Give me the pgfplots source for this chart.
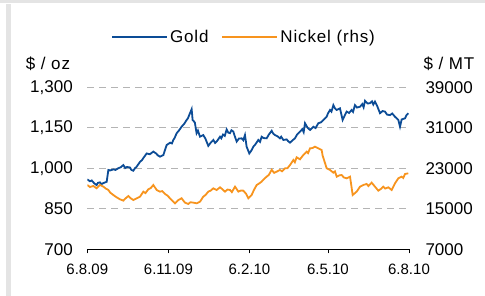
\documentclass[border=0pt]{standalone}
\usepackage{pgfplots}
\pgfplotsset{compat=1.18}
\usepackage{fontspec}
\setmainfont{Liberation Sans}
\newfontfamily\spacedfont[LetterSpace=5]{Liberation Sans}
\definecolor{goldblue}{RGB}{12,76,150}
\definecolor{nickelorange}{RGB}{247,148,30}
\definecolor{gridgray}{RGB}{180,180,180}
\definecolor{framegray}{RGB}{228,228,228}
\begin{document}
\begin{tikzpicture}
\useasboundingbox (0pt,0pt) rectangle (485pt,-296pt);
\fill[framegray] (0pt,0pt) rectangle (485pt,-3.3pt);
\fill[framegray] (6pt,-4pt) rectangle (10.5pt,-296pt);
\begin{axis}[
  at={(87.3pt,-249.3pt)}, anchor=south west,
  scale only axis, width=321.7pt, height=162pt,
  xmin=0, xmax=365, ymin=700, ymax=1300,
  separate axis lines,
  axis x line*=bottom, axis y line*=left,
  x axis line style={draw=black, line width=0.8pt, -},
  y axis line style={draw=none},
  xtick={0,92,184,273,365},
  xticklabels={6.8.09,6.11.09,6.2.10,6.5.10,6.8.10},
  xtick align=outside, major tick length=4pt,
  x tick style={draw=black, line width=0.8pt},
  xticklabel style={font=\fontsize{15}{17}\selectfont, yshift=-7pt},
  ytick={700,850,1000,1150,1300},
  yticklabels={700,850,{1,000},{1,150},{1,300}},
  y tick style={draw=none},
  yticklabel style={font=\fontsize{17}{19}\selectfont, anchor=east, xshift=-11pt},
  ymajorgrids,
  grid style={gridgray, line width=0.9pt, dash pattern=on 7pt off 5pt},
  legend style={at={(rel axis cs:0.487,1.31)}, anchor=center, draw=none, fill=none,
    font=\fontsize{17}{19}\spacedfont, inner sep=0pt,
    /tikz/every even column/.append style={column sep=11pt}},
  legend columns=2,
  legend image code/.code={\draw[#1, line width=2pt] (0pt,0pt) -- (55pt,0pt);},
]
\addplot[goldblue, line width=1.8pt] coordinates {
(0,959) (3,952) (5,955) (8,944) (10.6,938) (12,946) (14.4,948) (16,941) (18,945) (22,950)
(23.9,994) (26,992) (29.5,996) (32,994) (35,1000) (38,1004)
(40.9,1012) (43,1001) (45,1005) (48.4,1003) (50,994) (52.2,991) (54,1000) (56,1006) (59.8,1024)
(62,1030) (64,1040) (67.4,1055) (71,1052) (74.9,1062) (78,1055) (80,1048) (82.5,1043) (86.3,1049)
(88,1066) (90,1086) (94,1095) (96,1092) (97.6,1105) (99,1112) (101.4,1130) (104,1140) (107,1154) (110,1165)
(112.7,1179) (114,1184) (116.5,1204) (118.4,1219) (119.5,1179) (122,1170) (124,1130)
(125.5,1140) (127.9,1117) (131.6,1123) (134,1110) (137.3,1083) (140,1095) (143,1105)
(145,1094) (147,1100) (150.6,1117) (152,1111) (154,1125) (156,1120) (158.1,1144) (160,1132) (161.9,1130) (163.5,1141) (165.7,1136)
(167,1122) (169.5,1099) (172,1110) (175.1,1111) (177,1104) (178.9,1123) (180.8,1080) (183.8,1055)
(186,1065) (188.4,1080) (191,1090) (194,1105) (196,1098) (197.8,1117) (200,1112)
(203.5,1111) (206,1125) (209.2,1139) (211,1128) (213,1123) (216,1118) (218.6,1111)
(220,1117) (222.4,1105) (226.2,1107) (228,1100) (230,1095) (233,1104) (235.6,1111) (238,1125) (241.3,1136)
(244,1145) (245.5,1134) (247,1167) (250,1150) (252.7,1142) (256.5,1154) (259,1149) (262.1,1167)
(265,1170) (267.8,1179) (271.6,1191) (273,1203) (275.4,1216) (277,1210) (279.2,1234) (281,1222) (283,1216)
(286.7,1222) (289.7,1179) (292,1195) (294.3,1210) (297,1205) (299.9,1216) (301.5,1209) (303.7,1234)
(306,1225) (309.4,1228) (312,1238) (313.5,1226) (315.1,1250) (318,1240) (320.7,1241)
(323,1248) (324.5,1236) (326.4,1247) (329,1230) (332.1,1204) (335,1212) (337.8,1210) (340,1199) (343.4,1197)
(346,1203) (349.1,1191) (352.9,1179) (354.8,1154) (356.7,1181) (360.5,1185) (362,1196) (364.2,1204)
};
\addlegendentry{Gold}
\addlegendimage{nickelorange, line width=1.8pt}
\addlegendentry{Nickel (rhs)}
\end{axis}
\begin{axis}[
  at={(87.3pt,-249.3pt)}, anchor=south west,
  scale only axis, width=321.7pt, height=162pt,
  xmin=0, xmax=365, ymin=7000, ymax=39000,
  axis x line=none,
  axis y line*=right,
  y axis line style={draw=none},
  scaled y ticks=false,
  ytick={7000,15000,23000,31000,39000},
  yticklabels={7000,15000,23000,31000,39000},
  y tick style={draw=none},
  yticklabel style={font=\fontsize{17}{19}\selectfont, anchor=west, xshift=13pt},
]
\addplot[nickelorange, line width=1.8pt] coordinates {
(0,19704) (3,19300) (6.8,19507) (10.6,19046) (14.4,19704) (18.2,19375) (21,19000) (23.9,18717)
(26,18200) (29.5,17729) (33,17300) (37.1,16873) (40.9,16610) (43,17000) (46.6,17531) (49,17100) (52.2,16741) (56,17071)
(59.8,17400) (63.6,18387) (66,18100) (69.2,18848) (72,19100) (74.9,19704) (78.7,18717) (82.5,18387)
(85,18500) (88.2,17927) (91,17600) (93.8,17071) (96,16700) (99.5,16083) (103.3,16741) (107,17071) (110.8,16215)
(114.6,15951) (117,16300) (120.3,16215) (124.1,16083) (127.9,16412) (131.6,17399)
(134,17700) (137.3,18387) (140,18600) (143,19046) (146.8,18717) (150.6,19243) (153,18900) (156.2,18387)
(159,18800) (161.9,18717) (164,18300) (167.6,19375) (171.4,18387) (174,18600) (177,18585) (180,18000) (182.7,17071)
(186.5,17729) (189,18700) (192.2,19704) (195,20000) (197.8,20363) (200,20800) (203.5,21350) (206,21700) (209.2,22700)
(212,22100) (214.9,22338) (218.6,22667) (221,22400) (224.3,22997) (227,23000) (230,23655) (233.8,24642)
(235.5,24200) (237.5,25169) (241.3,24774) (245.1,25630) (248.9,26288) (250.5,26000) (252.7,26946)
(255.5,27000) (258.3,27276) (262.1,26946) (265.9,26617) (267,25500) (268.6,24642) (271.6,22996)
(275.4,22667) (279.2,22140) (281,22400) (283,21350) (286,21600) (288.6,21679) (291,21200) (294.3,21021)
(298.1,21350) (300,19046) (301.1,17729) (303,18000) (305.6,18387) (309.4,19375)
(313.2,19704) (316.9,19902) (319,19500) (322.6,20165) (326.4,19375) (330.2,18585)
(333,18900) (335.9,19375) (338,19000) (341.6,19243) (345.3,18717) (349.1,20033) (352.9,21021)
(356.7,21350) (358.5,21100) (360.5,21877) (364.2,22009)
};
\end{axis}
\node[font=\fontsize{17}{19}\spacedfont] at (48pt,-63.5pt) {\$ / oz};
\node[font=\fontsize{17}{19}\spacedfont] at (449pt,-63.5pt) {\$ / MT};
\end{tikzpicture}
\end{document}
